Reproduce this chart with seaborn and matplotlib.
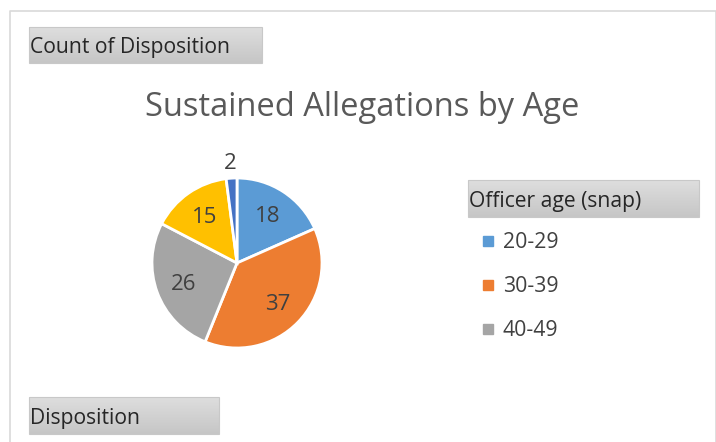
import matplotlib
matplotlib.use('Agg')
import matplotlib.pyplot as plt
import seaborn as sns
import numpy as np
from matplotlib.lines import Line2D
from matplotlib.patches import Rectangle

# data
ages = ['20-29', '30-39', '40-49', '50-59', '60+']
counts = [18, 37, 26, 15, 2]
legend_shown = ages[:3]
colors = ['#5B9BD5', '#ED7D31', '#A5A5A5', '#FFC000', '#4472C4']

sns.set_theme(style='white')
plt.rcParams['font.family'] = ['Open Sans', 'DejaVu Sans']

W, H = 716, 442
fig = plt.figure(figsize=(W / 100, H / 100), dpi=100)
fig.patch.set_facecolor('white')


def fx(px):
    return px / W


def fy(py):
    return 1 - py / H


# chart frame
bg = fig.add_axes([0, 0, 1, 1])
bg.set_xlim(0, W)
bg.set_ylim(H, 0)
bg.axis('off')
bg.plot([9.5, 9.5, 715.5, 715.5], [H, 10.5, 10.5, H], color='#D9D9D9', lw=1.2)

# gray gradient field buttons
grad = np.linspace(0, 1, 50).reshape(-1, 1)
btn_cmap = sns.blend_palette(['#DEDEDE', '#C6C6C6'], as_cmap=True)


def button(x0, y0, x1, y1, text):
    bg.imshow(grad, extent=(x0, x1, y1, y0), cmap=btn_cmap, aspect='auto', zorder=1)
    bg.add_patch(Rectangle((x0, y0), x1 - x0, y1 - y0, fill=False, ec='#C8C8C8', lw=0.8, zorder=2))
    bg.text(x0 + 1, (y0 + y1) / 2 + 3, text, fontsize=15.2, color='#262626', va='center', ha='left', zorder=3)


button(29, 27, 262, 63, 'Count of Disposition')
button(29, 397, 219, 434, 'Disposition')
button(468, 180, 699, 217, 'Officer age (snap)')
bg.set_xlim(0, W)
bg.set_ylim(H, 0)

# title
fig.text(fx(362), fy(107), 'Sustained Allegations by Age', fontsize=23.5, color='#595959',
         ha='center', va='center')

# pie
cx, cy, r = 237, 263, 85
ax = fig.add_axes([fx(cx - r), fy(cy + r), 2 * r / W, 2 * r / H])
wedges, _ = ax.pie(counts, colors=colors, startangle=90, counterclock=False,
                   wedgeprops=dict(edgecolor='white', linewidth=2))
ax.set_xlim(-1, 1)
ax.set_ylim(-1, 1)
ax.axis('off')

for w, v in zip(wedges, counts):
    ang = np.deg2rad((w.theta1 + w.theta2) / 2)
    d = 1.19 if v < 5 else 0.67
    ax.text(d * np.cos(ang), d * np.sin(ang) - 0.02, str(v), ha='center', va='center',
            fontsize=16, color='#404040')

# legend (only first three visible)
handles = [Line2D([0], [0], marker='s', color='none', markerfacecolor=c, markeredgecolor=c, markersize=7)
           for c in colors[:3]]
fig.legend(handles, legend_shown, loc='upper left', bbox_to_anchor=(fx(472), fy(224)),
           frameon=False, fontsize=15.3, labelcolor='#404040', handlelength=0.7,
           handletextpad=0.35, labelspacing=1.07, borderaxespad=0)

fig.savefig('out.png', dpi=100, facecolor='white')
